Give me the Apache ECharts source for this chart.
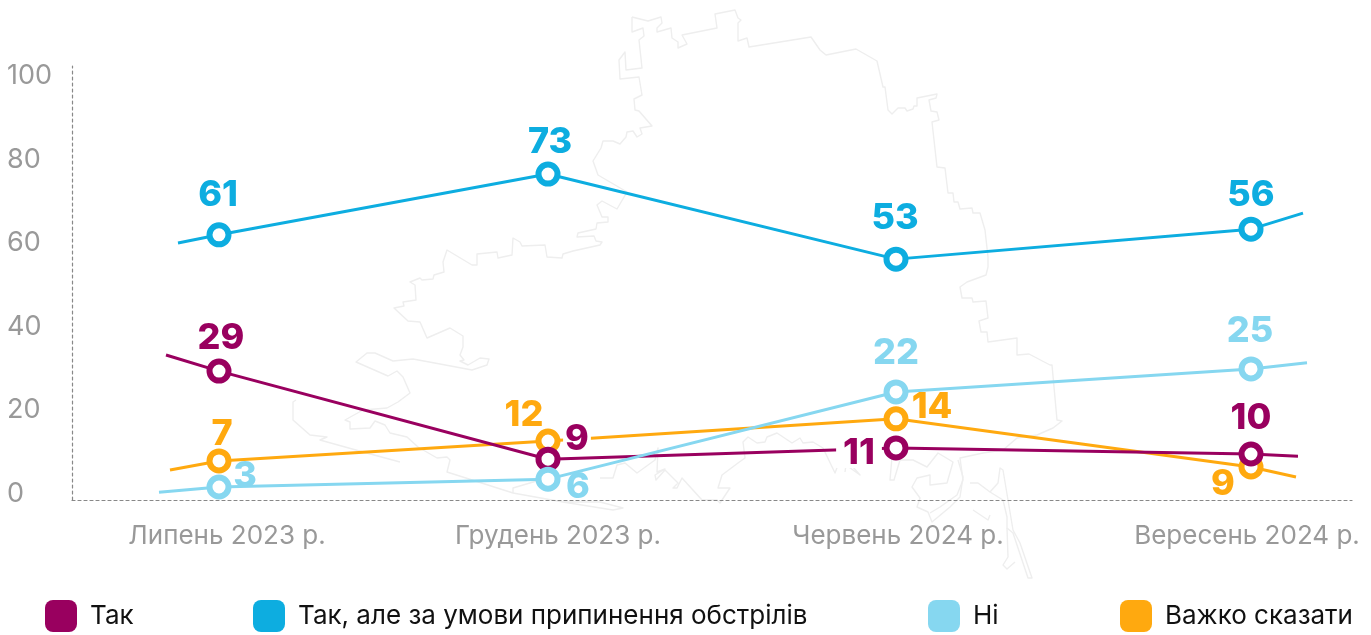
<!DOCTYPE html>
<html><head><meta charset="utf-8">
<style>html,body{margin:0;padding:0;background:#fff}#c{width:1371px;height:635px}</style>
<script src="https://cdn.jsdelivr.net/npm/echarts@6/dist/echarts.min.js"></script>
</head><body><div id="c"></div>
<script>
const categories = ['Липень 2023 р.', 'Грудень 2023 р.', 'Червень 2024 р.', 'Вересень 2024 р.'];
const categoryLabelAt = [155, 486, 826, 1175];
const yTicks = [0, 20, 40, 60, 80, 100];
const pointAt = [147, 476, 824, 1179];

const names = ['Так', 'Так, але за умови припинення обстрілів', 'Ні', 'Важко сказати'];
// plotted heights, with the short lead-in and lead-out stubs at each end
const yesValues = [33.4, 29.7, 9.4, 12.0, 10.6, 10.1];
const yesStubX = [94, 1226];
const yesLabels = [29, 9, 11, 10];
const condValues = [59.2, 61.1, 75.1, 55.5, 62.4, 66.1];
const condStubX = [106, 1231];
const condLabels = [61, 73, 53, 56];
const noValues = [1.8, 3.0, 4.8, 24.9, 30.2, 31.6];
const noStubX = [87, 1235];
const noLabels = [3, 6, 22, 25];
const hardValues = [6.9, 9.0, 13.6, 18.7, 7.6, 5.3];
const hardStubX = [98, 1224];
const hardLabels = [7, 12, 14, 9];

const yesOffsets = [[2,-33],[29,-20],[-37,5],[0,-36]];
const condOffsets = [[-1,-40],[2,-32],[-1,-41],[0,-34]];
const noOffsets = [[26,-11],[30,8],[0,-39],[-1,-38]];
const hardOffsets = [[3,-27],[-24,-26],[36,-12],[-28,17]];

const colors = {yes:'#99005f', cond:'#0dade0', no:'#86d7f0', hard:'#ffa90f'};

// faint regional outline behind the chart (decoration)
const mapOutlines = [
[[632,17],[648,21],[661,17],[662,23],[657,28],[657,32],[671,28],[672,38],[678,42],[678,48],[687,44],[682,35],[717,28],[715,14],[735,10],[738,18],[741,20],[738,23],[738,41],[747,38],[749,47],[811,37],[820,50],[826,55],[856,49],[877,61],[883,87],[885,87],[888,110],[892,114],[898,108],[905,108],[907,111],[913,109],[914,106],[917,106],[917,98],[937,94],[936,98],[929,100],[931,111],[937,112],[939,120],[932,122],[937,167],[945,168],[948,193],[953,193],[954,202],[958,202],[960,209],[972,208],[973,213],[980,213],[985,230],[988,257],[988,267],[986,275],[967,282],[960,287],[962,298],[972,298],[973,302],[986,301],[988,318],[979,321],[981,332],[987,332],[988,342],[1017,338],[1017,355],[1029,354],[1050,365],[1052,365],[1057,420],[1062,421],[1053,428],[1037,435],[1017,438],[1003,450],[983,453],[960,458],[963,480],[957,495],[940,507],[930,513]],
[[632,17],[632,32],[643,28],[644,36],[639,40],[642,68],[626,70],[625,52],[619,60],[620,79],[639,77],[642,95],[634,99],[635,110],[639,111],[652,126],[640,128],[642,134],[637,137],[633,131],[627,132],[626,137],[620,144],[613,141],[603,141],[601,148],[593,161],[598,175],[627,192],[617,209],[602,201],[597,205],[602,217],[608,217],[608,222],[597,223],[596,229],[578,233],[577,237],[594,236],[596,241],[602,242],[600,245],[573,251],[563,254],[562,258],[547,257],[545,245],[522,246],[520,242],[513,238],[512,255],[498,258],[497,252],[477,254],[477,265],[472,265],[447,250],[443,262],[444,272],[434,275],[433,279],[422,280],[420,278],[410,282],[415,285],[416,300],[403,302],[404,306],[394,308],[408,321],[420,322],[427,338],[450,328],[463,336],[463,347],[460,355],[464,360],[460,361],[468,365],[480,358],[489,359],[487,365],[472,370],[440,364],[413,359],[393,361],[375,353],[367,353],[356,362],[388,376],[397,371],[403,377],[410,393],[398,402],[387,408],[363,410],[345,420],[350,422],[350,429],[370,428],[375,421],[385,425],[390,433],[407,437],[418,447],[437,458],[447,457],[450,460],[447,472],[513,493],[563,502],[600,502],[623,508],[613,510],[563,502]],
[[513,493],[513,488],[540,480]],
[[296,400],[293,402],[293,420],[310,435],[327,437],[320,440],[363,452],[400,462]],
[[600,478],[613,478],[617,465],[625,463],[637,473],[655,460],[658,448],[657,472],[665,469],[655,475],[656,480],[665,470],[678,483],[673,488],[677,488],[682,478],[702,500],[717,500],[720,503],[730,488],[718,488],[722,475],[738,463],[745,458],[743,442],[748,437],[757,443],[765,442],[767,437],[777,433],[792,443],[800,438],[803,443],[813,442],[823,448],[835,473],[838,465]],
[[845,472],[846,465],[860,475],[853,467]],
[[892,457],[890,480],[894,480],[900,460],[913,460],[927,467],[938,453],[953,462],[947,483],[930,485],[930,475],[917,478],[912,487],[920,498],[917,507],[928,512],[932,522],[950,507],[960,497],[963,477],[958,460]],
[[970,483],[978,483],[990,492],[998,483],[1000,468],[1003,470],[1013,530],[1020,543],[1032,578],[1028,578],[1013,533],[1007,528],[1007,517],[1003,500],[990,492]],
[[1007,528],[1008,557],[1003,565],[1007,569],[1015,562]],
[[973,510],[988,520],[990,515]]
];

const FONT = 'Inter, "Noto Sans", sans-serif';

function makeSeries(name, values, stubX, labels, offsets, color) {
  const xs = [stubX[0], ...pointAt, stubX[1]];
  const data = values.map((v, i) => {
    if (i === 0 || i === values.length - 1) {
      return {value:[xs[i], v], symbol:'none', label:{show:false}};
    }
    const k = i - 1;
    const masked = name === 'Так' && (k === 1 || k === 2);
    return {
      value:[xs[i], v],
      label:{
        show:true, position:'inside', offset:offsets[k], formatter:String(labels[k]),
        color, fontFamily:FONT, fontWeight:800, fontSize:36, lineHeight:30,
        backgroundColor: masked ? '#fff' : 'transparent',
        padding: masked ? [0, k === 1 ? 2 : 7] : 0
      }
    };
  });
  return {
    name, type:'line', data, showAllSymbol:true, symbol:'circle', symbolSize:19,
    lineStyle:{color, width:3}, color,
    itemStyle:{color:'#fff', borderColor:color, borderWidth:6},
    emphasis:{disabled:true}, animation:false, z:3, clip:false
  };
}

const legendLefts = [45, 253, 928, 1120];
const legendColors = [colors.yes, colors.cond, colors.no, colors.hard];

const chart = echarts.init(document.getElementById('c'), null, {renderer:'canvas'});
chart.setOption({
  animation:false,
  backgroundColor:'#fff',
  grid:{left:72, top:66, width:1280, height:434, containLabel:false},
  xAxis:{
    type:'value', min:0, max:1280, splitLine:{show:false},
    axisLine:{show:true, onZero:false, lineStyle:{color:'#888', type:[3,3], width:1.2}},
    axisTick:{show:false},
    axisLabel:{
      customValues:categoryLabelAt, margin:23,
      formatter:v => categories[categoryLabelAt.indexOf(v)] || '',
      color:'#999', fontFamily:FONT, fontSize:26, hideOverlap:false, showMinLabel:true, showMaxLabel:true
    }
  },
  yAxis:[
    {type:'value', min:0, max:100, splitLine:{show:false},
     axisLine:{show:true, onZero:false, lineStyle:{color:'#888', type:[3,3], width:1.2}},
     axisTick:{show:false}, axisLabel:{show:false}},
    {type:'value', position:'left', min:-1.44, max:102.37, splitLine:{show:false},
     axisLine:{show:false}, axisTick:{show:false},
     axisLabel:{customValues:yTicks, align:'left', margin:65, color:'#999', fontFamily:FONT, fontSize:27}}
  ],
  legend: names.map((n, i) => ({
    left:legendLefts[i], top:600, padding:0, icon:'roundRect', itemWidth:32, itemHeight:32, itemGap:0,
    selectedMode:false,
    data:[{name:n, itemStyle:{color:legendColors[i], borderWidth:0}}],
    textStyle:{color:'#111', fontFamily:FONT, fontSize:26, padding:[0,0,0,8]}
  })),
  graphic: mapOutlines.map(points => ({
    type:'polyline', silent:true, z:-10,
    shape:{points}, style:{stroke:'#eeeeee', lineWidth:1.4, fill:null, lineJoin:'round'}
  })),
  series:[
    makeSeries(names[1], condValues, condStubX, condLabels, condOffsets, colors.cond),
    makeSeries(names[3], hardValues, hardStubX, hardLabels, hardOffsets, colors.hard),
    makeSeries(names[0], yesValues, yesStubX, yesLabels, yesOffsets, colors.yes),
    makeSeries(names[2], noValues, noStubX, noLabels, noOffsets, colors.no)
  ]
});
</script></body></html>
